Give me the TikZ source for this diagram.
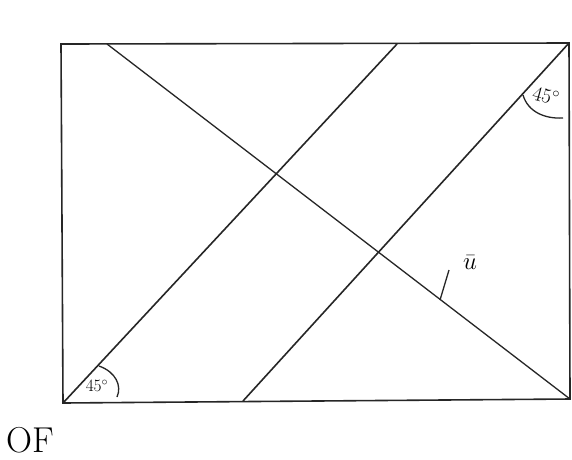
\documentclass[tikz,border=0pt]{standalone}
\begin{document}
\begin{tikzpicture}[x=1pt,y=-1pt,
  edge/.style={line width=1.6pt,black!85},
  thin edge/.style={line width=1.3pt,black!85},
  hand/.style={inner sep=0pt}]
\useasboundingbox[fill=white] (0,0) rectangle (572,459);
% rectangle corners
\coordinate (tl) at (61,44);
\coordinate (tr) at (569,43);
\coordinate (br) at (570,399);
\coordinate (bl) at (63,403);
\draw[edge] (tl) -- (tr) -- (br) -- (bl) -- cycle;
% diagonals
\coordinate (t1) at (107,44);
\coordinate (t2) at (397,44);
\coordinate (b2) at (243,401);
\draw[thin edge] (t1) -- (br);
\draw[edge] (bl) -- (t2);
\draw[edge] (b2) -- (tr);
% angle arcs
\draw[thin edge] (523,95) .. controls (528,112) and (545,119) .. (563,118);
\node[hand,rotate=-15,font=\fontsize{20}{20}\selectfont] (a1) at (546,96) {$45^\circ$};
\draw[thin edge] (99,366) .. controls (116,372) and (122,386) .. (117,397);
\node[hand,font=\fontsize{18}{18}\selectfont] (a2) at (97,386) {$45^\circ$};
% u label
\coordinate (k1) at (440,300);
\coordinate (k2) at (449,270);
\draw[thin edge] (k1) -- (k2);
\node[hand,font=\fontsize{30}{30}\selectfont] (u) at (470,263) {$\bar{u}$};
% bottom text
\node[hand,anchor=west,font=\fontsize{36}{36}\selectfont] (of) at (6,440) {OF};
\end{tikzpicture}
\end{document}
